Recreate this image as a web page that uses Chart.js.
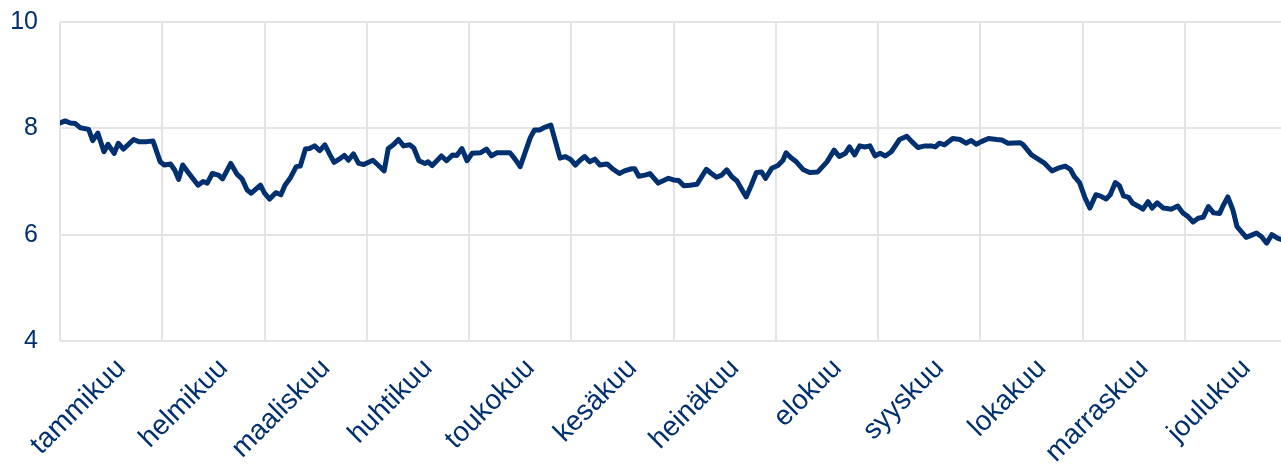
<!DOCTYPE html>
<html lang="fi">
<head>
<meta charset="utf-8">
<title>Korko</title>
<script src="https://cdn.jsdelivr.net/npm/chart.js@4/dist/chart.umd.min.js"></script>
<style>
  html, body { margin: 0; padding: 0; background: #fff; }
  #wrap { width: 1281px; height: 465px; }
</style>
</head>
<body>
<div id="wrap"><canvas id="chart"></canvas></div>
<script>
// Month names for the x axis
const monthNames = ['tammikuu', 'helmikuu', 'maaliskuu', 'huhtikuu', 'toukokuu', 'kesäkuu',
    'heinäkuu', 'elokuu', 'syyskuu', 'lokakuu', 'marraskuu', 'joulukuu'];

// Month starts (grid lines), in months from start of year
const monthStarts = [0, 1, 2, 3, 4, 5, 6, 7, 8, 9, 10, 11];
const axisEnd = 11.94;

// y axis ticks
const yTicks = [4, 6, 8, 10];

// Observation time, in months from start of year
const obsMonth = [
    0.00, 0.05, 0.10, 0.15, 0.20, 0.28, 0.32, 0.37, 0.43, 0.47,
    0.53, 0.57, 0.62, 0.72, 0.77, 0.85, 0.91, 0.98, 1.02, 1.08,
    1.12, 1.16, 1.20, 1.25, 1.35, 1.40, 1.44, 1.49, 1.55, 1.59,
    1.67, 1.73, 1.78, 1.83, 1.87, 1.96, 2.00, 2.05, 2.11, 2.16,
    2.20, 2.25, 2.31, 2.35, 2.40, 2.44, 2.49, 2.54, 2.59, 2.64,
    2.68, 2.73, 2.78, 2.82, 2.87, 2.92, 2.97, 3.06, 3.11, 3.17,
    3.21, 3.26, 3.31, 3.36, 3.42, 3.46, 3.51, 3.57, 3.60, 3.64,
    3.73, 3.78, 3.84, 3.88, 3.93, 3.98, 4.03, 4.11, 4.17, 4.22,
    4.27, 4.40, 4.45, 4.50, 4.60, 4.64, 4.69, 4.74, 4.80, 4.89,
    4.94, 4.99, 5.04, 5.08, 5.13, 5.18, 5.23, 5.28, 5.35, 5.41,
    5.47, 5.52, 5.59, 5.62, 5.66, 5.72, 5.77, 5.85, 5.95, 6.00,
    6.05, 6.10, 6.16, 6.23, 6.32, 6.37, 6.42, 6.47, 6.52, 6.57,
    6.62, 6.67, 6.71, 6.76, 6.81, 6.86, 6.90, 6.96, 7.02, 7.07,
    7.10, 7.14, 7.20, 7.27, 7.33, 7.41, 7.50, 7.57, 7.62, 7.68,
    7.72, 7.77, 7.82, 7.87, 7.92, 7.97, 8.02, 8.07, 8.13, 8.21,
    8.28, 8.33, 8.39, 8.46, 8.52, 8.56, 8.60, 8.65, 8.73, 8.80,
    8.86, 8.91, 8.96, 9.01, 9.08, 9.16, 9.21, 9.27, 9.39, 9.42,
    9.50, 9.55, 9.63, 9.70, 9.76, 9.83, 9.88, 9.92, 9.97, 10.02,
    10.07, 10.13, 10.17, 10.23, 10.27, 10.32, 10.36, 10.40, 10.45, 10.49,
    10.54, 10.59, 10.64, 10.68, 10.73, 10.79, 10.87, 10.93, 10.98, 11.03,
    11.08, 11.13, 11.18, 11.23, 11.28, 11.34, 11.37, 11.42, 11.47, 11.51,
    11.60, 11.70, 11.75, 11.80, 11.85, 11.91, 11.94
];

// Observed values
const obsValue = [
    8.10, 8.14, 8.10, 8.09, 8.01, 7.98, 7.77, 7.91, 7.56, 7.70,
    7.53, 7.72, 7.61, 7.79, 7.75, 7.75, 7.76, 7.37, 7.31, 7.33,
    7.22, 7.04, 7.31, 7.18, 6.93, 7.00, 6.97, 7.15, 7.12, 7.05,
    7.34, 7.14, 7.05, 6.84, 6.78, 6.93, 6.78, 6.67, 6.79, 6.75,
    6.93, 7.06, 7.28, 7.29, 7.61, 7.62, 7.67, 7.58, 7.69, 7.50,
    7.36, 7.42, 7.49, 7.40, 7.52, 7.34, 7.32, 7.40, 7.31, 7.20,
    7.62, 7.69, 7.79, 7.67, 7.69, 7.63, 7.39, 7.34, 7.37, 7.30,
    7.48, 7.39, 7.50, 7.49, 7.62, 7.39, 7.53, 7.54, 7.61, 7.48,
    7.54, 7.54, 7.42, 7.28, 7.83, 7.97, 7.97, 8.02, 8.06, 7.44,
    7.47, 7.42, 7.31, 7.39, 7.47, 7.37, 7.42, 7.31, 7.33, 7.23,
    7.15, 7.20, 7.24, 7.24, 7.10, 7.12, 7.15, 6.97, 7.06, 7.03,
    7.02, 6.92, 6.93, 6.95, 7.23, 7.15, 7.08, 7.12, 7.22, 7.09,
    7.01, 6.84, 6.71, 6.93, 7.17, 7.18, 7.06, 7.25, 7.30, 7.40,
    7.54, 7.46, 7.37, 7.22, 7.17, 7.18, 7.37, 7.59, 7.47, 7.53,
    7.65, 7.50, 7.67, 7.65, 7.67, 7.48, 7.53, 7.48, 7.56, 7.79,
    7.85, 7.75, 7.64, 7.67, 7.67, 7.65, 7.72, 7.69, 7.81, 7.79,
    7.72, 7.77, 7.70, 7.75, 7.81, 7.79, 7.78, 7.72, 7.73, 7.69,
    7.50, 7.44, 7.34, 7.20, 7.25, 7.29, 7.23, 7.09, 6.98, 6.71,
    6.50, 6.75, 6.73, 6.67, 6.75, 6.98, 6.92, 6.73, 6.70, 6.59,
    6.54, 6.48, 6.62, 6.50, 6.60, 6.50, 6.48, 6.54, 6.41, 6.34,
    6.24, 6.31, 6.33, 6.53, 6.41, 6.40, 6.53, 6.71, 6.46, 6.15,
    5.95, 6.03, 5.96, 5.84, 6.00, 5.93, 5.91
];

const NAVY = '#00306f';
const GRID = '#e4e4e4';
const FAMILY = "'Liberation Sans', Arial, sans-serif";
const labelShift = 0.6;

const points = obsMonth.map((m, i) => ({ x: m, y: obsValue[i] }));

new Chart(document.getElementById('chart'), {
    type: 'line',
    data: {
        datasets: [{
            data: points,
            borderColor: NAVY,
            borderWidth: 5,
            borderJoinStyle: 'round',
            borderCapStyle: 'round',
            pointRadius: 0,
            tension: 0,
            fill: false
        }]
    },
    options: {
        responsive: true,
        maintainAspectRatio: false,
        animation: false,
        layout: { padding: { top: 22, left: 10, right: 0, bottom: 0 } },
        plugins: {
            legend: { display: false },
            tooltip: { enabled: false }
        },
        scales: {
            x: {
                type: 'linear',
                position: 'bottom',
                min: 0,
                max: axisEnd,
                afterBuildTicks: (scale) => {
                    scale.ticks = monthStarts.map(v => ({ value: v }));
                },
                grid: { color: GRID, lineWidth: 2, drawTicks: false },
                border: { display: false },
                ticks: { display: false }
            },
            months: {
                type: 'linear',
                position: 'bottom',
                min: 0,
                max: axisEnd,
                afterBuildTicks: (scale) => {
                    scale.ticks = monthNames.map((n, i) => ({ value: i + labelShift }));
                },
                afterFit: (scale) => {
                    // keep the rotated first label from pushing the plot area right
                    scale.paddingLeft = 0;
                    scale.paddingRight = 0;
                    scale.height = 124;
                },
                grid: { display: false, drawTicks: false },
                border: { display: false },
                ticks: {
                    autoSkip: false,
                    minRotation: 45,
                    maxRotation: 45,
                    padding: 11,
                    color: NAVY,
                    font: { family: FAMILY, size: 28 },
                    callback: (value, index) => monthNames[index]
                }
            },
            y: {
                min: 4,
                max: 10,
                afterBuildTicks: (scale) => {
                    scale.ticks = yTicks.map(v => ({ value: v }));
                },
                afterFit: (scale) => {
                    scale.paddingTop = 0;
                    scale.paddingBottom = 0;
                    scale.width = 50;
                },
                grid: { color: GRID, lineWidth: 2, drawTicks: false },
                border: { display: false },
                ticks: { color: NAVY, font: { family: FAMILY, size: 25 }, padding: 22 }
            }
        }
    }
});
</script>
</body>
</html>
